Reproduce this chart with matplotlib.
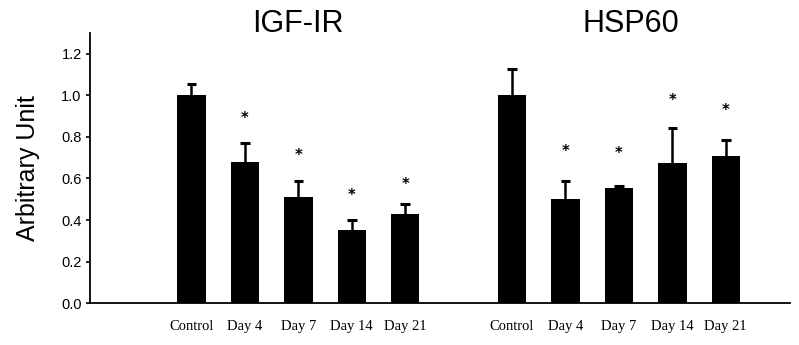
import numpy as np
import matplotlib
matplotlib.use("Agg")
import matplotlib.pyplot as plt

# values
days = ["Control", "Day 4", "Day 7", "Day 14", "Day 21"]
igf_mean = [1.00, 0.68, 0.51, 0.35, 0.43]
igf_err = [0.053, 0.093, 0.08, 0.05, 0.045]
hsp_mean = [1.00, 0.50, 0.555, 0.675, 0.71]
hsp_err = [0.13, 0.09, 0.01, 0.17, 0.077]
igf_star = [None, 0.89, 0.71, 0.52, 0.57]
hsp_star = [None, 0.73, 0.72, 0.975, 0.93]
group_titles = ["IGF-IR", "HSP60"]

fig = plt.figure(figsize=(7.99, 3.45), dpi=100)
ax = fig.add_axes([0.1126, 0.1217, 0.876, 0.782])

x_igf = np.arange(5)
x_hsp = np.arange(5) + 6

for xs, means, errs, stars in [(x_igf, igf_mean, igf_err, igf_star),
                               (x_hsp, hsp_mean, hsp_err, hsp_star)]:
    means = np.array(means)
    tops = means + np.array(errs)
    ax.bar(xs, means, width=0.53, color="black")
    # upper error bars only
    ax.vlines(xs, means, tops, color="black", linewidth=1.8)
    ax.hlines(tops, xs - 0.09, xs + 0.09, color="black", linewidth=2.2)
    for xi, s in zip(xs, stars):
        if s is not None:
            ax.text(xi, s, "*", ha="center", va="center", fontsize=10.5,
                    fontweight="bold")

ax.text(2.0, 1.345, group_titles[0], ha="center", va="center",
        fontsize=22, family="Liberation Sans")
ax.text(8.22, 1.345, group_titles[1], ha="center", va="center",
        fontsize=22, family="Liberation Sans")

ax.set_xlim(-1.9, 11.2)
ax.set_ylim(0, 1.3)
ax.set_yticks([0.0, 0.2, 0.4, 0.6, 0.8, 1.0, 1.2])
ax.set_yticklabels(["0.0", "0.2", "0.4", "0.6", "0.8", "1.0", "1.2"],
                   family="Liberation Sans", fontsize=10.5)
ax.set_xticks(list(x_igf) + list(x_hsp))
ax.set_xticklabels(days + days, family="Liberation Serif", fontsize=10.5)
ax.tick_params(axis="x", length=0, pad=12)
ax.tick_params(axis="y", length=3, width=1.2, direction="out", pad=3)
ax.set_ylabel("Arbitrary Unit", family="Liberation Sans", fontsize=18,
              labelpad=15)
ax.spines["top"].set_visible(False)
ax.spines["right"].set_visible(False)
ax.spines["left"].set_linewidth(1.3)
ax.spines["bottom"].set_linewidth(1.3)

fig.savefig("out.png", dpi=100)
